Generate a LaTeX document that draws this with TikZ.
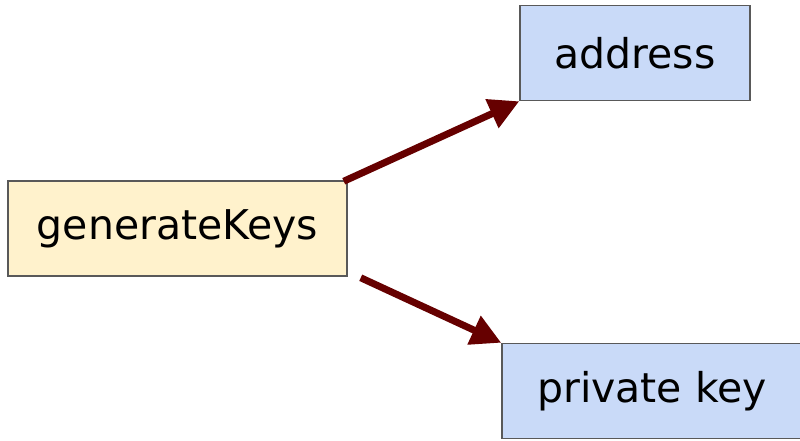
\documentclass[tikz,border=0pt]{standalone}
\usepackage{fontspec}
\setmainfont{DejaVu Sans}
\usetikzlibrary{arrows.meta,positioning}
\definecolor{keyfill}{HTML}{FFF2CC}
\definecolor{outfill}{HTML}{C9DAF8}
\definecolor{edgegray}{HTML}{595959}
\definecolor{arrowred}{HTML}{660000}
\tikzset{
  basic/.style  = {draw=edgegray, line width=1.5pt, rectangle, inner sep=0pt,
                   font=\fontsize{41}{46}\selectfont},
  func/.style   = {basic, fill=keyfill, minimum height=95pt},
  result/.style = {basic, fill=outfill, minimum height=95pt},
  link/.style   = {-{Triangle[length=30pt,width=30pt]}, line width=7pt, draw=arrowred}
}

\begin{document}
\begin{tikzpicture}[x=1pt,y=-1pt]
  \useasboundingbox (0,0) rectangle (800,440);
  % boxes
  \node[func, minimum width=339pt] (gen) at (177.5,228.5) {generateKeys};
  \node[result, minimum width=230pt] (addr) at (635,53) {address};
  \node[result, minimum width=300pt] (priv) at (652,391) {private key};
  % arrows
  \coordinate (genup) at ([xshift=-4pt,yshift=-1pt]gen.north east);
  \coordinate (genlow) at ([xshift=13pt,yshift=-1pt]gen.south east);
  \draw[link] (genup) -- (addr.south west);
  \draw[link] (genlow) -- (priv.north west);
\end{tikzpicture}
\end{document}
